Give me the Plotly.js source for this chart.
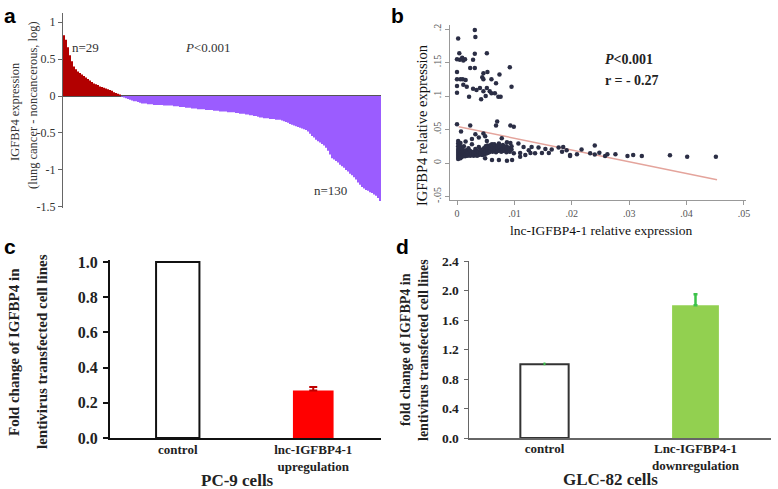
<!DOCTYPE html>
<html>
<head>
<meta charset="utf-8">
<script src="https://cdn.plot.ly/plotly-3.0.1.min.js"></script>
<style>html,body{margin:0;padding:0;background:#fff;}#chart{width:778px;height:489px;}</style>
</head>
<body>
<div id="chart"></div>
<script>
// ---------- Panel a data ----------
const redVals = [0.82,0.76,0.66,0.55,0.47,0.40,0.36,0.33,0.31,0.29,0.27,0.25,0.23,0.21,0.19,0.17,0.16,0.15,0.13,0.12,0.11,0.10,0.09,0.08,0.07,0.05,0.04,0.03,0.02];
const purpleVals = [-0.01,-0.02,-0.03,-0.04,-0.05,-0.06,-0.07,-0.07,-0.08,-0.09,
 -0.10,-0.10,-0.10,-0.11,-0.11,-0.11,-0.12,-0.12,-0.12,-0.12,
 -0.12,-0.13,-0.13,-0.13,-0.13,-0.13,-0.14,-0.14,-0.14,-0.15,
 -0.15,-0.15,-0.16,-0.16,-0.16,-0.17,-0.17,-0.17,-0.18,-0.18,
 -0.18,-0.18,-0.19,-0.19,-0.19,-0.19,-0.20,-0.20,-0.20,-0.21,
 -0.21,-0.21,-0.21,-0.22,-0.22,-0.22,-0.22,-0.23,-0.23,-0.24,
 -0.24,-0.24,-0.25,-0.25,-0.26,-0.26,-0.27,-0.27,-0.28,-0.29,
 -0.29,-0.30,-0.30,-0.30,-0.31,-0.31,-0.31,-0.32,-0.32,-0.32,
 -0.33,-0.34,-0.35,-0.36,-0.38,-0.39,-0.40,-0.41,-0.42,-0.43,
 -0.44,-0.45,-0.46,-0.48,-0.51,-0.54,-0.56,-0.59,-0.61,-0.63,
 -0.65,-0.67,-0.70,-0.74,-0.79,-0.84,-0.86,-0.88,-0.90,-0.93,
 -0.95,-0.97,-1.00,-1.02,-1.05,-1.07,-1.10,-1.13,-1.17,-1.20,
 -1.23,-1.25,-1.27,-1.28,-1.30,-1.31,-1.33,-1.35,-1.38,-1.42];
const aTickVals = [-1.5,-1,-0.5,0,0.5,1];
const aTickText = ['-1.5','-1','-0.5','0','0.5','1'];

// ---------- Panel b data ----------
const bX = [
 // upper cluster
 0.0031,0.0032,0.0002,0.0004,0.0031,0.0052,0.0000,0.0005,0.0009,0.0011,0.0014,0.0028,0.0023,0.0031,0.0092,
 0.0000,0.0046,0.0053,0.0074,0.0000,0.0006,0.0010,0.0015,0.0044,0.0046,0.0060,0.0068,0.0095,0.0000,0.0011,
 0.0017,0.0034,0.0040,0.0046,0.0052,0.0057,0.0060,0.0066,0.0072,0.0076,0.0021,0.0042,0.0000,0.0028,0.0050,
 // middle band and tail
 0.0000,0.0023,0.0070,0.0068,0.0093,0.0099,0.0007,0.0032,0.0046,0.0049,0.0026,0.0038,0.0052,0.0078,0.0087,
 0.0093,0.0015,0.0061,0.0073,0.0107,0.0116,0.0130,0.0142,0.0154,0.0165,0.0177,0.0191,0.0125,0.0136,0.0148,
 0.0160,0.0183,0.0197,0.0099,0.0110,0.0119,0.0128,0.0061,0.0073,0.0087,0.0096,0.0110,0.0049,0.0209,0.0232,
 0.0240,0.0240,0.0248,0.0258,0.0262,0.0276,0.0297,0.0307,0.0322,0.0371,0.0401,0.0451,0.0185,0.0217,0.0197,
 // dense low cluster
 0.0002,0.0002,0.0002,0.0002,0.0002,0.0002,0.0002,0.0002,0.0002,
 0.0004,0.0004,0.0004,0.0004,0.0004,0.0004,0.0004,
 0.0006,0.0006,0.0006,0.0006,0.0006,0.0006,0.0006,
 0.0008,0.0008,0.0008,0.0008,0.0008,
 0.0010,0.0010,0.0010,0.0010,
 0.0012,0.0012,0.0012,0.0012,
 0.0014,0.0014,0.0014, 0.0016,0.0016,0.0016, 0.0018,0.0018,0.0018, 0.0020,0.0020,0.0020,
 0.0023,0.0023,0.0023, 0.0026,0.0026,0.0026, 0.0029,0.0029,0.0029, 0.0032,0.0032,0.0032,
 0.0035,0.0035,0.0035, 0.0038,0.0038,0.0038, 0.0041,0.0041,0.0041, 0.0044,0.0044,0.0044,
 0.0047,0.0047,0.0047, 0.0050,0.0050,0.0050, 0.0053,0.0053,0.0053, 0.0056,0.0056,0.0056,
 0.0059,0.0059,0.0059, 0.0062,0.0062,0.0062, 0.0065,0.0065,0.0065, 0.0068,0.0068,0.0068,
 0.0071,0.0071,0.0071, 0.0074,0.0074, 0.0077,0.0077,0.0077, 0.0080,0.0080,0.0080,
 0.0083,0.0083, 0.0086,0.0086,0.0086, 0.0089,0.0089, 0.0092,0.0092, 0.0095,0.0095];
const bY = [
 0.1985,0.188,0.186,0.164,0.163,0.164,0.155,0.154,0.157,0.153,0.155,0.154,0.142,0.142,0.143,
 0.136,0.134,0.136,0.132,0.125,0.125,0.125,0.124,0.128,0.125,0.125,0.119,0.114,0.115,0.117,
 0.114,0.109,0.112,0.107,0.112,0.107,0.104,0.104,0.099,0.099,0.099,0.095,0.105,0.111,0.100,
 0.058,0.056,0.062,0.056,0.056,0.054,0.047,0.043,0.044,0.040,0.036,0.038,0.033,0.037,0.031,
 0.030,0.032,0.028,0.029,0.029,0.024,0.024,0.023,0.021,0.020,0.023,0.019,0.019,0.0145,0.015,
 0.015,0.017,0.012,0.0145,0.015,0.012,0.015,0.0045,0.0045,0.0035,0.0045,0.0095,0.007,0.013,0.0144,
 0.026,0.0127,0.0154,0.0104,0.0129,0.013,0.0104,0.0119,0.0104,0.0115,0.0094,0.0094,0.024,0.020,0.0104,
 0.006,0.009,0.012,0.015,0.018,0.021,0.025,0.029,0.033,
 0.008,0.011,0.014,0.017,0.020,0.023,0.027,
 0.007,0.010,0.013,0.016,0.019,0.024,0.030,
 0.009,0.012,0.015,0.018,0.022,
 0.010,0.013,0.016,0.020,
 0.011,0.014,0.017,0.025,
 0.010,0.013,0.016, 0.012,0.015,0.019, 0.011,0.014,0.017, 0.012,0.015,0.022,
 0.011,0.014,0.018, 0.012,0.015,0.028, 0.011,0.014,0.017, 0.012,0.015,0.021,
 0.011,0.014,0.018, 0.012,0.016,0.024, 0.013,0.015,0.020, 0.012,0.014,0.017,
 0.013,0.016,0.022, 0.014,0.019,0.025, 0.015,0.021,0.026, 0.016,0.020,0.023,
 0.018,0.022,0.027, 0.017,0.021,0.025, 0.019,0.023,0.028, 0.016,0.020,0.024,
 0.018,0.022,0.026, 0.019,0.023, 0.017,0.021,0.025, 0.018,0.022,0.027,
 0.020,0.024, 0.016,0.021,0.025, 0.019,0.023, 0.017,0.022, 0.020,0.025];
const fitX = [0.0003, 0.0453];
const fitY = [0.054, -0.025];
const bXTickVals = [0,0.01,0.02,0.03,0.04,0.05];
const bXTickText = ['0','.01','.02','.03','.04','.05'];
const bYTickVals = [-0.05,0,0.05,0.1,0.15,0.2];
const bYTickText = ['-.05','0','.05','.1','.15','.2'];

// ---------- Panel c data ----------
const cCats = ['control','lnc-IGFBP4-1<br>upregulation'];
const cVals = [1.0, 0.27];
const cErr = [0, 0.02];

// ---------- Panel d data ----------
const dCats = ['control','Lnc-IGFBP4-1<br>downregulation'];
const dVals = [1.0, 1.8];
const dErr = [0.01, 0.15];

// ---------- helpers (pixel -> paper) ----------
const W = 778, H = 489;
const PX = p => p / W;
const PY = p => 1 - p / H;
const serif = 'Liberation Serif, Times New Roman, serif';
const sans = 'Liberation Sans, Arial, sans-serif';

const redX = redVals.map((v, i) => i);
const purpleX = purpleVals.map((v, i) => i + redVals.length);

const traces = [
  {type:'bar', x: redX, y: redVals, width: 1, marker:{color:'#b20000', line:{width:0}}, xaxis:'x', yaxis:'y', hoverinfo:'skip'},
  {type:'bar', x: purpleX, y: purpleVals, width: 1, marker:{color:'#9b5cff', line:{width:0}}, xaxis:'x', yaxis:'y', hoverinfo:'skip'},
  {type:'scatter', mode:'lines', x: fitX, y: fitY, line:{color:'#e4a49c', width:1.5}, xaxis:'x2', yaxis:'y2'},
  {type:'scatter', mode:'markers', x: bX, y: bY, marker:{color:'#2b2e45', size:4.5}, xaxis:'x2', yaxis:'y2'},
  {type:'bar', x:[cCats[0]], y:[cVals[0]], width:0.32, marker:{color:'#ffffff', line:{color:'#111', width:2}}, xaxis:'x3', yaxis:'y3'},
  {type:'bar', x:[cCats[1]], y:[cVals[1]], width:0.30, marker:{color:'#ff0000', line:{width:0}},
   error_y:{type:'data', symmetric:false, array:[cErr[1]], arrayminus:[0], color:'#c00000', thickness:2, width:4}, xaxis:'x3', yaxis:'y3'},
  {type:'bar', x:[dCats[0]], y:[dVals[0]], width:0.32, marker:{color:'#ffffff', line:{color:'#333', width:2}},
   error_y:{type:'data', symmetric:false, array:[dErr[0]], arrayminus:[0], color:'#3cc24a', thickness:2, width:1}, xaxis:'x4', yaxis:'y4'},
  {type:'bar', x:[dCats[1]], y:[dVals[1]], width:0.31, marker:{color:'#92d050', line:{width:0}},
   error_y:{type:'data', symmetric:false, array:[dErr[1]], arrayminus:[0], color:'#3cc24a', thickness:2.5, width:2}, xaxis:'x4', yaxis:'y4'}
];

const ann = (text, x, y, opts) => Object.assign({text, x: PX(x), y: PY(y), xref:'paper', yref:'paper', showarrow:false, xanchor:'center', yanchor:'middle'}, opts);

const annotations = [
  ann('a', 10, 15, {font:{family:sans, size:21, color:'#000', weight:'bold'}}),
  ann('b', 398, 15, {font:{family:sans, size:21, color:'#000', weight:'bold'}}),
  ann('c', 10, 246, {font:{family:sans, size:21, color:'#000', weight:'bold'}}),
  ann('d', 403, 246, {font:{family:sans, size:21, color:'#000', weight:'bold'}}),
  // panel a
  ann('n=29', 85, 47, {font:{family:serif, size:13, color:'#333'}}),
  ann('<i>P</i>&lt;0.001', 208, 47, {font:{family:serif, size:13, color:'#333'}}),
  ann('n=130', 330, 190, {font:{family:serif, size:13, color:'#333'}}),
  ann('IGFBP4 expression', 15, 112, {textangle:-90, font:{family:serif, size:12.5, color:'#333'}}),
  ann('(lung cancer - noncancerous, log)', 33, 105, {textangle:-90, font:{family:serif, size:12.5, color:'#333'}}),
  // panel b
  ann('<i>P</i>&lt;0.001', 603, 60, {xanchor:'left', font:{family:serif, size:14, color:'#222', weight:'bold'}}),
  ann('r = - 0.27', 603, 81, {xanchor:'left', font:{family:serif, size:14, color:'#222', weight:'bold'}}),
  ann('IGFBP4 relative expression', 422, 125, {textangle:-90, font:{family:serif, size:14.5, color:'#111'}}),
  ann('lnc-IGFBP4-1 relative expression', 601, 231, {font:{family:serif, size:13.5, color:'#111'}}),
  // panel c
  ann('Fold change of IGFBP4 in', 14, 352, {textangle:-90, font:{family:serif, size:15, color:'#222', weight:'bold'}}),
  ann('lentivirus transfected cell lines', 42, 352, {textangle:-90, font:{family:serif, size:15, color:'#222', weight:'bold'}}),
  ann('PC-9 cells', 237, 480, {font:{family:serif, size:17, color:'#222', weight:'bold'}}),
  // panel d
  ann('fold change of IGFBP4 in', 405, 350, {textangle:-90, font:{family:serif, size:14, color:'#222', weight:'bold'}}),
  ann('lentivirus transfected cell lines', 423, 350, {textangle:-90, font:{family:serif, size:14, color:'#222', weight:'bold'}}),
  ann('GLC-82 cells', 610, 479, {font:{family:serif, size:17, color:'#222', weight:'bold'}})
];

const layout = {
  width: W, height: H, autosize:false,
  margin:{l:0, r:0, t:0, b:0},
  paper_bgcolor:'#ffffff', plot_bgcolor:'rgba(0,0,0,0)',
  showlegend:false, barmode:'overlay',
  annotations,
  // panel a
  xaxis:{domain:[PX(63), PX(381)], range:[-0.5, redVals.length + purpleVals.length - 0.5], showline:false, showgrid:false, zeroline:false, showticklabels:false, ticks:'', fixedrange:true},
  yaxis:{domain:[PY(208), PY(13)], range:[-1.514, 1.122], anchor:'x', showline:true, linecolor:'#666', linewidth:1,
         showgrid:false, zeroline:true, zerolinecolor:'#555', zerolinewidth:1.5, layer:'above traces',
         tickvals:aTickVals, ticktext:aTickText, ticks:'outside', ticklen:4, tickcolor:'#666',
         tickfont:{family:serif, size:12, color:'#333'}},
  // panel b
  xaxis2:{domain:[PX(450), PX(746)], range:[-0.00122, 0.05035], anchor:'y2', showline:true, linecolor:'#999', linewidth:1,
          showgrid:false, zeroline:false, tickvals:bXTickVals, ticktext:bXTickText, ticks:'outside', ticklen:4, tickcolor:'#999',
          tickfont:{family:serif, size:10, color:'#555'}},
  yaxis2:{domain:[PY(200), PY(25)], range:[-0.0552, 0.206], anchor:'x2', showline:true, linecolor:'#999', linewidth:1,
          showgrid:false, zeroline:false, tickvals:bYTickVals, ticktext:bYTickText, ticks:'outside', ticklen:4, tickcolor:'#999',
          tickangle:-90, tickfont:{family:serif, size:10, color:'#555'}},
  // panel c
  xaxis3:{domain:[PX(110), PX(381)], type:'category', range:[-0.5, 1.5], anchor:'y3', showline:true, linecolor:'#111', linewidth:2,
          showgrid:false, zeroline:false, ticks:'', ticklabelstandoff:-2,
          tickfont:{family:serif, size:13, color:'#222', weight:'bold'}},
  yaxis3:{domain:[PY(438), PY(260.2)], range:[0, 1.01], anchor:'x3', showline:true, linecolor:'#111', linewidth:2,
          showgrid:false, zeroline:false, tickvals:[0,0.2,0.4,0.6,0.8,1.0], tickformat:'.1f', ticks:'outside', ticklen:5, tickwidth:2, tickcolor:'#111',
          ticklabelstandoff:2, tickfont:{family:serif, size:16, color:'#222', weight:'bold'}},
  // panel d
  xaxis4:{domain:[PX(469), PX(771)], type:'category', range:[-0.5, 1.5], anchor:'y4', showline:true, linecolor:'#666', linewidth:1.5,
          showgrid:false, zeroline:false, ticks:'', ticklabelstandoff:-2,
          tickfont:{family:serif, size:13, color:'#222', weight:'bold'}},
  yaxis4:{domain:[PY(438), PY(261)], range:[0, 2.4], anchor:'x4', showline:true, linecolor:'#666', linewidth:1.5,
          showgrid:false, zeroline:false, tickvals:[0,0.4,0.8,1.2,1.6,2.0,2.4], tickformat:'.1f', ticks:'outside', ticklen:4, tickcolor:'#666',
          ticklabelstandoff:2, tickfont:{family:serif, size:13.5, color:'#222', weight:'bold'}}
};

Plotly.newPlot('chart', traces, layout, {displayModeBar:false, staticPlot:true});
</script>
</body>
</html>
